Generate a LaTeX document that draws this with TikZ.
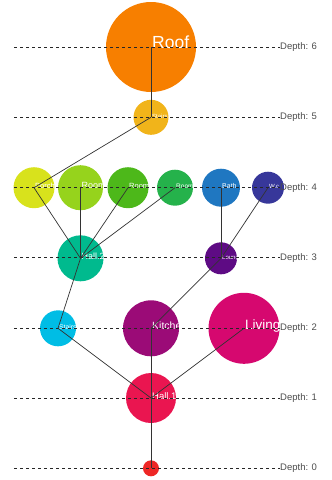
\documentclass[tikz,border=0pt]{standalone}
\usepackage{fontspec}
\setmainfont{Liberation Sans}
\pgfdeclarelayer{edgelayer}
\pgfdeclarelayer{nodelayer}
\pgfsetlayers{nodelayer,edgelayer,main}
\definecolor{roofc}{HTML}{F77F00}
\definecolor{stairac}{HTML}{F1B41A}
\definecolor{porchc}{HTML}{D8E21C}
\definecolor{roomcc}{HTML}{96D31C}
\definecolor{roomac}{HTML}{4DB81A}
\definecolor{roombc}{HTML}{25B24B}
\definecolor{bathc}{HTML}{1F77C1}
\definecolor{wcc}{HTML}{37379A}
\definecolor{halltwoc}{HTML}{00BA8E}
\definecolor{loungec}{HTML}{5E0B84}
\definecolor{stairbc}{HTML}{00BDE5}
\definecolor{kitchenc}{HTML}{9B0B77}
\definecolor{livingc}{HTML}{D6086F}
\definecolor{hallonec}{HTML}{EA1550}
\definecolor{entryc}{HTML}{EE2726}
\tikzstyle{edge}=[draw=black!80, line width=0.7pt]
\tikzstyle{level}=[draw=black!85, line width=0.6pt, dash pattern=on 3pt off 3pt]
\tikzstyle{depthlabel}=[anchor=mid west, inner sep=0pt, text=black!70, font=\fontsize{9.5}{10}\selectfont]
\tikzset{room/.style n args={4}{circle, fill=#1, draw=none, minimum size=#2, inner sep=0pt,
  path picture={\node[rectangle, fill=none, draw=none, minimum size=0pt, anchor=base west,
    inner sep=0pt, text=white, xshift=1pt, yshift=-1pt,
    font=\fontsize{#3}{#3}\selectfont] at (path picture bounding box.center) {#4};}}}

\begin{document}
\begin{tikzpicture}[x=1pt, y=-1pt]
	\useasboundingbox (0,0) rectangle (332,480);
	\begin{pgfonlayer}{nodelayer}
		\node [room={roofc}{90pt}{17.5}{Roof}] (roof) at (151, 47) {};
		\node [room={stairac}{35pt}{6}{Stairs}] (staira) at (151, 117.3) {};
		\node [room={porchc}{41pt}{7.5}{Porch}] (porch) at (34, 187.7) {};
		\node [room={roomcc}{45pt}{9}{Room 3}] (roomc) at (80.5, 187.7) {};
		\node [room={roomac}{41pt}{7.5}{Room}] (rooma) at (128, 187.7) {};
		\node [room={roombc}{36pt}{6.5}{Room}] (roomb) at (175, 187.7) {};
		\node [room={bathc}{38pt}{7}{Bath}] (bath) at (221, 187.7) {};
		\node [room={wcc}{32pt}{6}{W.c}] (wc) at (268, 187.7) {};
		\node [room={halltwoc}{46pt}{9}{Hall.2}] (halltwo) at (80.5, 258.3) {};
		\node [room={loungec}{32pt}{6}{Lounge}] (lounge) at (221, 258.3) {};
		\node [room={stairbc}{36pt}{6.8}{Stairs}] (stairb) at (58, 328.3) {};
		\node [room={kitchenc}{56pt}{10.5}{Kitchen}] (kitchen) at (151, 328.3) {};
		\node [room={livingc}{71pt}{13.5}{Living}] (living) at (244, 328.3) {};
		\node [room={hallonec}{50pt}{9.5}{Hall.1}] (hallone) at (151, 398) {};
		\node [room={entryc}{16pt}{3}{}] (entry) at (151, 468.3) {};
	\end{pgfonlayer}
	\begin{pgfonlayer}{edgelayer}
		\foreach \d in {0,...,6} {
			\coordinate (l\d) at (14, 468.3-70.2*\d);
			\node [style=depthlabel] (d\d) at (280, 468.3-70.2*\d) {Depth: \d};
			\draw [style=level] (l\d) to (d\d.mid west);
		}
		\draw [style=edge] (roof.center) to (staira.center);
		\draw [style=edge] (staira.center) to (porch.center);
		\draw [style=edge] (porch.center) to (halltwo.center);
		\draw [style=edge] (roomc.center) to (halltwo.center);
		\draw [style=edge] (rooma.center) to (halltwo.center);
		\draw [style=edge] (roomb.center) to (halltwo.center);
		\draw [style=edge] (bath.center) to (lounge.center);
		\draw [style=edge] (wc.center) to (lounge.center);
		\draw [style=edge] (halltwo.center) to (stairb.center);
		\draw [style=edge] (lounge.center) to (kitchen.center);
		\draw [style=edge] (stairb.center) to (hallone.center);
		\draw [style=edge] (kitchen.center) to (hallone.center);
		\draw [style=edge] (living.center) to (hallone.center);
		\draw [style=edge] (hallone.center) to (entry.center);
	\end{pgfonlayer}
\end{tikzpicture}
\end{document}
